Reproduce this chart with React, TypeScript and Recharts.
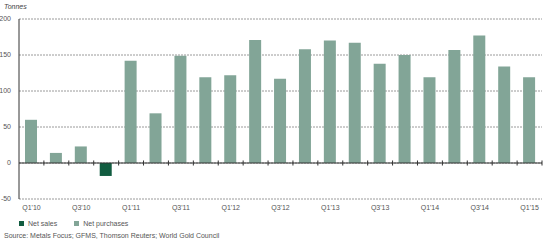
import { BarChart, Bar, XAxis, YAxis, CartesianGrid, ReferenceLine } from "recharts"

const quarters = [
  "Q1'10", "Q2'10", "Q3'10", "Q4'10",
  "Q1'11", "Q2'11", "Q3'11", "Q4'11",
  "Q1'12", "Q2'12", "Q3'12", "Q4'12",
  "Q1'13", "Q2'13", "Q3'13", "Q4'13",
  "Q1'14", "Q2'14", "Q3'14", "Q4'14",
  "Q1'15",
]
const netSales = [null, null, null, -18, null, null, null, null, null, null, null, null, null, null, null, null, null, null, null, null, null]
const netPurchases = [60, 14, 23, null, 142, 69, 149, 119, 122, 171, 117, 158, 170, 167, 138, 150, 119, 157, 177, 134, 119]
const yTicks = [-50, 0, 50, 100, 150, 200]

const SALES = "#115c40"
const PURCHASES = "#82a597"
const FONT = "'Liberation Sans', Arial, sans-serif"

const data = quarters.map((q, i) => ({ q, sales: netSales[i], purchases: netPurchases[i] }))
const last = quarters[quarters.length - 1]

export default function App() {
  return (
    <div style={{ position: "absolute", left: 0, top: 0, width: 549, height: 246, fontFamily: FONT, background: "#fff" }}>
      <div style={{ position: "absolute", left: 4, top: 3, fontSize: 7, fontStyle: "italic", color: "#444" }}>Tonnes</div>
      <BarChart width={549} height={215} data={data} margin={{ top: 19, right: 7, bottom: 2, left: 2 }} barCategoryGap={0}>
        <CartesianGrid vertical={false} stroke="#9a9a9a" strokeDasharray="2 1" />
        <XAxis
          dataKey="q"
          interval={1}
          axisLine={false}
          tickLine={false}
          height={14}
          tickSize={4}
          tick={{ fontSize: 7, fill: "#555", fontFamily: FONT }}
        />
        <YAxis
          domain={[-50, 200]}
          ticks={yTicks}
          width={17}
          axisLine={{ stroke: "#333", strokeWidth: 1 }}
          tickLine={false}
          tickMargin={2}
          tick={{ fontSize: 7, fill: "#555", fontFamily: FONT }}
        />
        <Bar dataKey="sales" name="Net sales" stackId="a" fill={SALES} barSize={12} isAnimationActive={false} />
        <Bar dataKey="purchases" name="Net purchases" stackId="a" fill={PURCHASES} barSize={12} isAnimationActive={false} />
        <ReferenceLine y={0} stroke="#333" strokeWidth={1} />
        {quarters.slice(1).map((q) => (
          <ReferenceLine key={q} segment={[{ x: q, y: 3.5 }, { x: q, y: -3.5 }]} position="start" stroke="#333" strokeWidth={1} />
        ))}
        <ReferenceLine segment={[{ x: last, y: 3.5 }, { x: last, y: -3.5 }]} position="end" stroke="#333" strokeWidth={1} />
      </BarChart>
      <div style={{ position: "absolute", left: 19, top: 220, fontSize: 7, color: "#555", display: "flex", alignItems: "center" }}>
        {[{ name: "Net sales", color: SALES }, { name: "Net purchases", color: PURCHASES }].map((s) => (
          <span key={s.name} style={{ display: "flex", alignItems: "center", marginRight: 17 }}>
            <span style={{ width: 5, height: 5, background: s.color, display: "inline-block", marginRight: 4 }} />
            {s.name}
          </span>
        ))}
      </div>
      <div style={{ position: "absolute", left: 4, top: 232, fontSize: 7, color: "#555" }}>
        Source: Metals Focus; GFMS, Thomson Reuters; World Gold Council
      </div>
    </div>
  )
}
